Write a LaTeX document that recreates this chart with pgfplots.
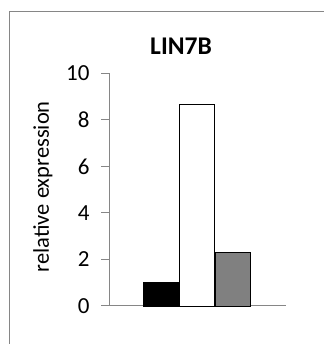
\documentclass[border=0pt]{standalone}
\usepackage{fontspec}
\setmainfont{Carlito}
\usepackage{pgfplots}
\pgfplotsset{compat=1.18}
\definecolor{axisgray}{HTML}{868686}
\definecolor{bargray}{HTML}{808080}
\begin{document}
\begin{tikzpicture}
\useasboundingbox (0,0) rectangle (324pt,344pt);
% chart frame (only the top and left edges fall inside the picture)
\draw[axisgray, line width=1.2pt] (9.5pt,0pt) -- (9.5pt,332.5pt) -- (324pt,332.5pt);
\begin{axis}[
    at={(109pt,38pt)}, anchor=south west,
    scale only axis,
    width=177pt, height=232.5pt,
    xmin=0, xmax=177,
    ymin=0, ymax=10,
    ytick={0,2,...,10},
    xtick=\empty,
    axis x line=bottom, axis y line=left,
    axis line style={axisgray, line width=1pt, -},
    y axis line style={-},
    major tick length=8pt,
    tick align=outside,
    tick style={axisgray, line width=1pt},
    /pgf/number format/assume math mode=true,
    ticklabel style={font=\fontsize{23}{24}\selectfont},
    yticklabel style={xshift=-8pt},
    title={\textbf{LIN7B}},
    title style={font=\fontsize{25.5}{27}\selectfont, at={(axis description cs:0.407,1.0925)}, anchor=center},
    ylabel={relative expression},
    ylabel style={font=\fontsize{22.5}{24}\selectfont, at={(axis description cs:-0.373,0.513)}, rotate=0, anchor=center},
    ybar, bar width=35.5, bar shift=0pt,
    clip=false,
]
\addplot[fill=black, draw=black, line width=0.8pt] coordinates {(52.5,1.0)};
\addplot[fill=white, draw=black, line width=0.8pt] coordinates {(88,8.67)};
\addplot[fill=bargray, draw=black, line width=0.8pt] coordinates {(124,2.31)};
\end{axis}
\end{tikzpicture}
\end{document}
